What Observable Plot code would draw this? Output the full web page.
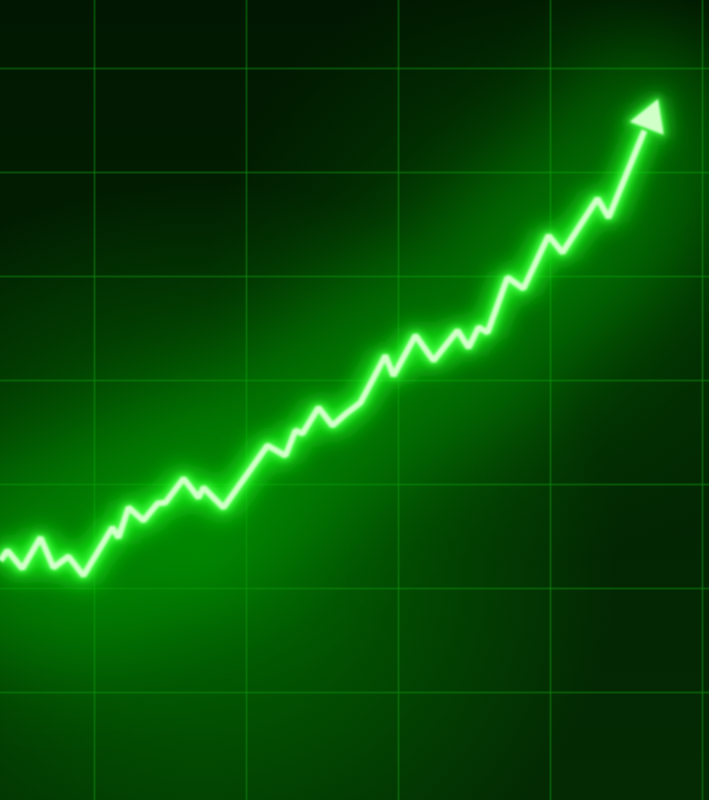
<!DOCTYPE html>
<html><head><meta charset="utf-8">
<script src="https://cdn.jsdelivr.net/npm/d3@7"></script>
<script src="https://cdn.jsdelivr.net/npm/@observablehq/plot@0.6"></script>
<style>
html,body{margin:0;padding:0;background:#021a02;overflow:hidden}
#chart svg{display:block}
</style></head>
<body><div id="chart"></div>
<script>
// Series (time index, value)
const times = [3.82, 4.28, 5.26, 6.45, 7.30, 8.29, 9.28, 11.18, 11.58, 12.24, 13.22, 14.14, 14.67, 15.86, 16.84, 17.17, 18.49, 21.38, 22.57, 23.22, 23.68, 24.74, 25.66, 26.64, 27.50, 29.14, 29.67, 31.12, 32.30, 33.88, 34.61, 35.26, 35.86, 37.17, 38.22, 39.87, 40.79, 43.09, 43.82, 46.18];
const values = [12.69, 13.65, 11.92, 14.90, 12.02, 13.08, 11.25, 15.87, 14.90, 17.79, 16.54, 18.17, 18.27, 20.58, 18.75, 19.71, 17.79, 23.75, 22.79, 25.19, 24.90, 27.40, 25.67, 26.92, 27.88, 32.40, 30.48, 34.33, 31.92, 34.81, 33.17, 35.10, 34.62, 39.90, 38.85, 43.94, 42.31, 47.50, 45.67, 54.04];
// Arrowhead at the end of the series
const arrowTime = [46.58];
const arrowValue = [55.19];
const arrowAngle = [21];
// Grid tick values
const xTicks = [10, 20, 30, 40, 50];
const yTicks = [0, 10, 20, 30, 40, 50, 60];

const series = times.map((t, i) => ({t, v: values[i]}));
const head = arrowTime.map((t, i) => ({t, v: arrowValue[i], a: arrowAngle[i]}));

const W = 709, H = 800;
const plot = Plot.plot({
  width: W, height: H,
  margin: 0,
  x: {domain: [3.816, 50.46], axis: null},
  y: {domain: [-10.38, 66.54], axis: null},
  style: {
    background: "radial-gradient(ellipse 420px 380px at 200px 560px, rgba(0,120,0,0.85), rgba(0,120,0,0) 100%), radial-gradient(ellipse 330px 300px at 540px 260px, rgba(0,100,0,0.5), rgba(0,100,0,0) 100%), linear-gradient(180deg, #011701 0%, #022302 55%, #032a03 100%)"
  },
  marks: [
    Plot.ruleX(xTicks, {stroke: "#0f8f0f", strokeOpacity: 0.45, strokeWidth: 2}),
    Plot.ruleY(yTicks, {stroke: "#0f8f0f", strokeOpacity: 0.45, strokeWidth: 2}),
    Plot.line(series, {x: "t", y: "v", stroke: "#00b400", strokeWidth: 170, strokeOpacity: 0.42, strokeLinejoin: "round", strokeLinecap: "round"}),
    Plot.line(series, {x: "t", y: "v", stroke: "#1cff1c", strokeWidth: 28, strokeOpacity: 0.8, strokeLinejoin: "miter", strokeLinecap: "butt"}),
    Plot.dot(head, {x: "t", y: "v", rotate: "a", symbol: "triangle", r: 19, fill: "#1cff1c", fillOpacity: 0.85, stroke: "none"}),
    Plot.line(series, {x: "t", y: "v", stroke: "#44ff44", strokeWidth: 12, strokeLinejoin: "miter", strokeLinecap: "butt"}),
    Plot.dot(head, {x: "t", y: "v", rotate: "a", symbol: "triangle", r: 15.5, fill: "#44ff44", stroke: "none"}),
    Plot.line(series, {x: "t", y: "v", stroke: "#d0ffc8", strokeWidth: 6, strokeLinejoin: "miter", strokeLinecap: "butt"}),
    Plot.dot(head, {x: "t", y: "v", rotate: "a", symbol: "triangle", r: 13.5, fill: "#d0ffc8", stroke: "none"})
  ]
});
document.getElementById("chart").appendChild(plot);

// Glow filters
const svg = d3.select(plot);
const defs = svg.insert("defs", ":first-child");
function blur(id, sd) {
  defs.append("filter").attr("id", id)
    .attr("filterUnits", "userSpaceOnUse")
    .attr("x", -100).attr("y", -100).attr("width", W + 200).attr("height", H + 200)
    .append("feGaussianBlur").attr("stdDeviation", sd);
}
blur("b40", 45);
blur("b10", 11);
blur("b3", 3.5);
blur("b1", 0.8);
const groups = Array.from(plot.children).filter(e => e.tagName.toLowerCase() === "g");
const filters = [null, null, "b40", "b10", "b10", "b3", "b3", "b1", "b1"];
groups.forEach((g, i) => { if (filters[i]) g.setAttribute("filter", `url(#${filters[i]})`); });
</script>
</body></html>
